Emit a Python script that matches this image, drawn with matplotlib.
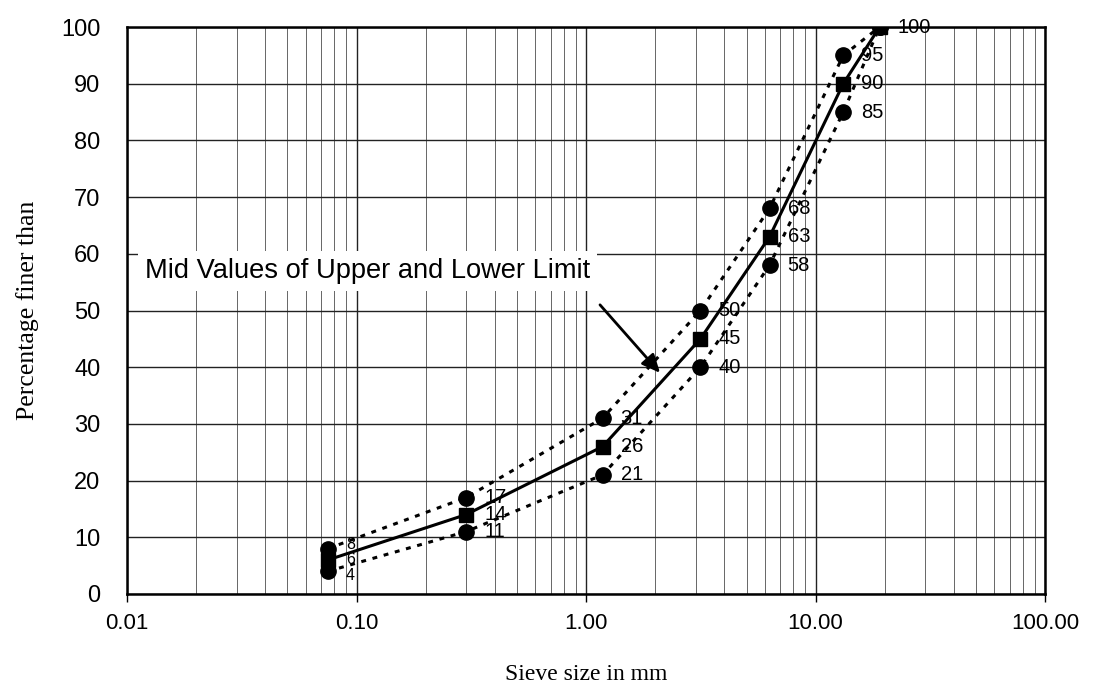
import matplotlib
matplotlib.use("Agg")
import matplotlib.pyplot as plt
from matplotlib.ticker import FixedLocator, FixedFormatter, LogLocator, NullFormatter

sieve_mm = [0.075, 0.3, 1.18, 3.15, 6.3, 13.2, 19.0]
upper = [8, 17, 31, 50, 68, 95, 100]
lower = [4, 11, 21, 40, 58, 85, 100]
mid = [6, 14, 26, 45, 63, 90, 100]

x_ticks = [0.01, 0.1, 1, 10, 100]
x_ticklabels = ["0.01", "0.10", "1.00", "10.00", "100.00"]
y_ticks = list(range(0, 101, 10))

sans = ["Liberation Sans", "DejaVu Sans"]
serif = ["Liberation Serif", "DejaVu Serif"]

fig = plt.figure(figsize=(10.93, 6.84), dpi=100)
ax = fig.add_axes([0.1162, 0.1316, 0.8400, 0.8289])
ax.set_xscale("log")
ax.set_xlim(0.01, 100)
ax.set_ylim(0, 100)

ax.xaxis.set_major_locator(FixedLocator(x_ticks))
ax.xaxis.set_major_formatter(FixedFormatter(x_ticklabels))
ax.xaxis.set_minor_locator(LogLocator(base=10, subs=range(2, 10)))
ax.xaxis.set_minor_formatter(NullFormatter())
ax.set_yticks(y_ticks)

ax.grid(True, which="major", axis="both", color="#222222", lw=1.0)
ax.grid(True, which="minor", axis="x", color="#666666", lw=0.7)
ax.set_axisbelow(True)
for s in ax.spines.values():
    s.set_linewidth(1.8)
    s.set_color("black")
ax.tick_params(axis="x", which="major", length=6, width=1, labelsize=16, direction="out", pad=8)
ax.tick_params(axis="x", which="minor", length=0)
ax.tick_params(axis="y", length=0, pad=19, labelsize=17)
for lab in ax.get_xticklabels() + ax.get_yticklabels():
    lab.set_family(sans)

dash = (0, (1.6, 2.2))
ax.plot(sieve_mm, upper, color="black", lw=2.2, ls=dash, marker="o", ms=11, zorder=3)
ax.plot(sieve_mm, lower, color="black", lw=2.2, ls=dash, marker="o", ms=11, zorder=3)
ax.plot(sieve_mm, mid, color="black", lw=2.2, ls="-", marker="s", ms=10, zorder=4)

for series, dy in ((upper, 3), (mid, 0), (lower, -3)):
    for i, (xv, yv) in enumerate(zip(sieve_mm, series)):
        if series is not mid and i == len(sieve_mm) - 1:
            continue
        if i == 0:
            fs, off = 11.5, dy
        else:
            fs, off = 14.5, 0
        ax.annotate(str(yv), (xv, yv), xytext=(13, off), textcoords="offset points",
                    ha="left", va="center", fontsize=fs, family=sans, zorder=5)

ax.text(0.012, 57, "Mid Values of Upper and Lower Limit", fontsize=19.6, family=sans,
        ha="left", va="center", zorder=6,
        bbox=dict(boxstyle="square,pad=0.25", fc="white", ec="none"))
ax.annotate("", xy=(2.1, 39.0), xytext=(1.15, 51),
            arrowprops=dict(arrowstyle="-|>,head_length=1.1,head_width=0.5",
                            color="black", lw=2.0, shrinkA=0, shrinkB=0), zorder=6)

ax.set_xlabel("Sieve size in mm", fontsize=17, family=serif, labelpad=21)
ax.set_ylabel("Percentage finer than", fontsize=18.5, family=serif, labelpad=16)

fig.savefig("out.png", dpi=100)
